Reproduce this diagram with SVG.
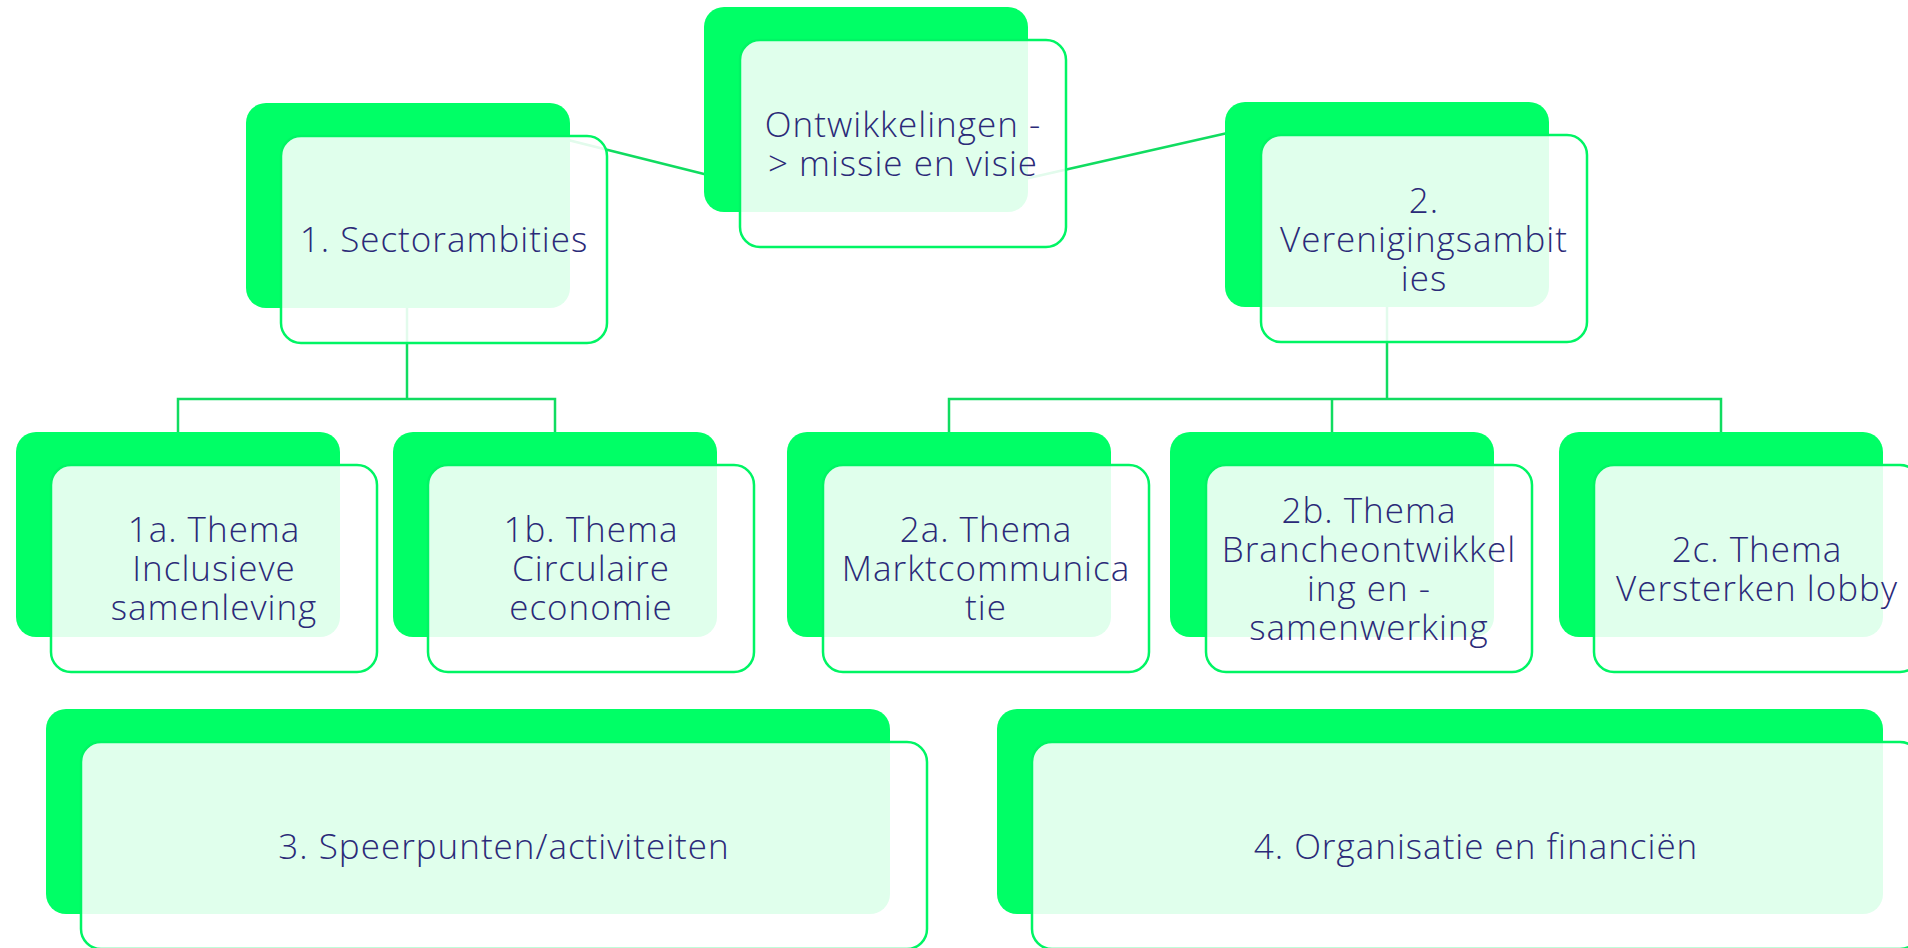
<svg xmlns="http://www.w3.org/2000/svg" width="1908" height="948" viewBox="0 0 1908 948">
<style>
.back{fill:#00ff66;}
.front{fill:#ffffff;fill-opacity:0.88;stroke:#00f564;stroke-width:2.5;}
.conn{fill:none;stroke:#10dc60;stroke-width:2.5;}
.lbl{font-family:"Open Sans","Liberation Sans",sans-serif;font-weight:300;font-size:35px;letter-spacing:1px;fill:#2b2a78;text-anchor:middle;}
</style>
<rect width="1908" height="948" fill="#ffffff"/>
<g id="connectors">
<line class="conn" x1="560" y1="138" x2="712" y2="176"/>
<line class="conn" x1="1020" y1="180" x2="1232" y2="132"/>
<polyline class="conn" points="407,300 407,399"/>
<polyline class="conn" points="178,432 178,399 555,399 555,432"/>
<polyline class="conn" points="1387,298 1387,399"/>
<polyline class="conn" points="949,432 949,399 1721,399 1721,432"/>
<line class="conn" x1="1332" y1="399" x2="1332" y2="432"/>
</g>
<g id="node-sector">
<rect class="back" x="246" y="103" width="324" height="205" rx="20"/>
<rect class="front" x="281" y="136" width="326" height="207" rx="20"/>
<text class="lbl" x="444" y="252">1. Sectorambities</text>
</g>
<g id="node-ontw">
<rect class="back" x="704" y="7" width="324" height="205" rx="20"/>
<rect class="front" x="740" y="40" width="326" height="207" rx="20"/>
<text class="lbl" x="903" y="136.5"><tspan x="903">Ontwikkelingen -</tspan><tspan x="903" dy="39">&gt; missie en visie</tspan></text>
</g>
<g id="node-veren">
<rect class="back" x="1225" y="102" width="324" height="205" rx="20"/>
<rect class="front" x="1261" y="135" width="326" height="207" rx="20"/>
<text class="lbl" x="1424" y="213"><tspan x="1424">2.</tspan><tspan x="1424" dy="39">Verenigingsambit</tspan><tspan x="1424" dy="39">ies</tspan></text>
</g>
<g id="node-1a">
<rect class="back" x="16" y="432" width="324" height="205" rx="20"/>
<rect class="front" x="51" y="465" width="326" height="207" rx="20"/>
<text class="lbl" x="214" y="542"><tspan x="214">1a. Thema</tspan><tspan x="214" dy="39">Inclusieve</tspan><tspan x="214" dy="39">samenleving</tspan></text>
</g>
<g id="node-1b">
<rect class="back" x="393" y="432" width="324" height="205" rx="20"/>
<rect class="front" x="428" y="465" width="326" height="207" rx="20"/>
<text class="lbl" x="591" y="542"><tspan x="591">1b. Thema</tspan><tspan x="591" dy="39">Circulaire</tspan><tspan x="591" dy="39">economie</tspan></text>
</g>
<g id="node-2a">
<rect class="back" x="787" y="432" width="324" height="205" rx="20"/>
<rect class="front" x="823" y="465" width="326" height="207" rx="20"/>
<text class="lbl" x="986" y="542"><tspan x="986">2a. Thema</tspan><tspan x="986" dy="39">Marktcommunica</tspan><tspan x="986" dy="39">tie</tspan></text>
</g>
<g id="node-2b">
<rect class="back" x="1170" y="432" width="324" height="205" rx="20"/>
<rect class="front" x="1206" y="465" width="326" height="207" rx="20"/>
<text class="lbl" x="1369" y="522.5"><tspan x="1369">2b. Thema</tspan><tspan x="1369" dy="39">Brancheontwikkel</tspan><tspan x="1369" dy="39">ing en -</tspan><tspan x="1369" dy="39">samenwerking</tspan></text>
</g>
<g id="node-2c">
<rect class="back" x="1559" y="432" width="324" height="205" rx="20"/>
<rect class="front" x="1594" y="465" width="326" height="207" rx="20"/>
<text class="lbl" x="1757" y="561.5"><tspan x="1757">2c. Thema</tspan><tspan x="1757" dy="39">Versterken lobby</tspan></text>
</g>
<g id="node-3">
<rect class="back" x="46" y="709" width="844" height="205" rx="20"/>
<rect class="front" x="81" y="742" width="846" height="207" rx="20"/>
<text class="lbl" x="504" y="859">3. Speerpunten/activiteiten</text>
</g>
<g id="node-4">
<rect class="back" x="997" y="709" width="886" height="205" rx="20"/>
<rect class="front" x="1032" y="742" width="888" height="207" rx="20"/>
<text class="lbl" x="1476" y="859">4. Organisatie en financiën</text>
</g>
</svg>
